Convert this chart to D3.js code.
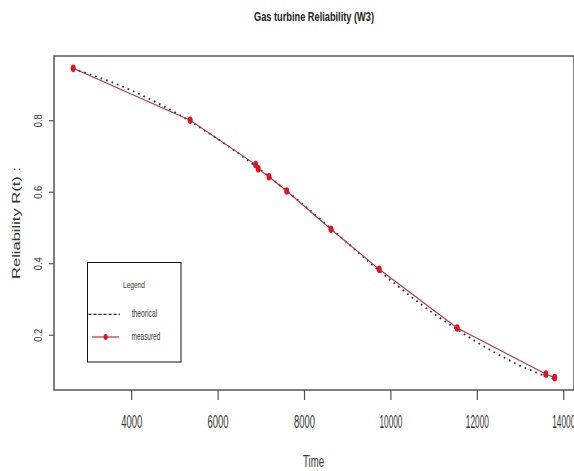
<!DOCTYPE html>
<html>
<head>
<meta charset="utf-8">
<script src="https://cdn.jsdelivr.net/npm/d3@7"></script>
<style>
  html, body { margin: 0; padding: 0; background: #fff; }
  svg { display: block; font-family: "Liberation Sans", Arial, sans-serif; }
</style>
</head>
<body>
<svg id="chart" width="574" height="471"></svg>
<script>
// Measured reliability of the gas turbine
const measTime = [2659, 5364, 6880, 6940, 7190, 7600, 8624, 9741, 11545, 13595, 13803];
const measR    = [0.945, 0.800, 0.676, 0.664, 0.642, 0.602, 0.495, 0.383, 0.219, 0.090, 0.080];

// Theoretical (3-parameter Weibull) reliability curve
const theoTime = [2659, 3000, 3500, 4000, 4500, 5000, 5500, 6000, 6500, 7000, 7500, 8000,
                  8500, 9000, 9500, 10000, 10500, 11000, 11500, 12000, 12500, 13000, 13500, 13803];
const theoR    = [0.944, 0.930, 0.909, 0.884, 0.855, 0.823, 0.787, 0.748, 0.706, 0.660, 0.612, 0.562,
                  0.510, 0.457, 0.404, 0.353, 0.304, 0.259, 0.218, 0.179, 0.144, 0.113, 0.088, 0.076];

const xTicks = [4000, 6000, 8000, 10000, 12000, 14000];
const yTicks = [0.2, 0.4, 0.6, 0.8];

const titleText = "Gas turbine Reliability (W3)";
const xLabel = "Time";
const yLabel = "Reliability R(t) :";
const legendTitle = "Legend";
const seriesNames = ["theorical", "measured"];

const svg = d3.select("#chart");

// Plot region with 4% padding around the data range
const pad = (ext) => { const d = ext[1] - ext[0]; return [ext[0] - 0.04 * d, ext[1] + 0.04 * d]; };
const x = d3.scaleLinear().domain(pad(d3.extent(measTime))).range([54, 574]);
const y = d3.scaleLinear().domain(pad(d3.extent(measR))).range([390, 56]);

const theo = theoTime.map((t, i) => ({ t, r: theoR[i] }));
const meas = measTime.map((t, i) => ({ t, r: measR[i] }));

const line = d3.line().x(d => x(d.t)).y(d => y(d.r));

// Theoretical curve (dotted)
svg.append("path")
  .datum(theo)
  .attr("d", line)
  .attr("fill", "none")
  .attr("stroke", "#1e1e5a")
  .attr("stroke-width", 1.8)
  .attr("stroke-dasharray", "1.6,4.2");

// Measured series (line + points)
svg.append("path")
  .datum(meas)
  .attr("d", line)
  .attr("fill", "none")
  .attr("stroke", "#b4343a")
  .attr("stroke-width", 1.1);

svg.append("g").selectAll("ellipse")
  .data(meas)
  .join("ellipse")
  .attr("cx", d => x(d.t))
  .attr("cy", d => y(d.r))
  .attr("rx", 2.5)
  .attr("ry", 3.8)
  .attr("fill", "#e0141e");

// Frame
const [x0, x1] = x.range();
const [y0, y1] = y.range();
svg.append("rect")
  .attr("x", x0).attr("y", y1)
  .attr("width", x1 - x0).attr("height", y0 - y1)
  .attr("fill", "none")
  .attr("stroke", "#555")
  .attr("stroke-width", 1.5);

// X axis
const xAxis = svg.append("g").attr("transform", `translate(0,${y0})`)
  .call(d3.axisBottom(x).tickValues(xTicks).tickSize(10).tickFormat(d3.format("d")));
xAxis.select(".domain").remove();
xAxis.selectAll(".tick line").attr("stroke", "#555").attr("stroke-width", 1.2);
xAxis.selectAll(".tick text")
  .attr("y", 38)
  .attr("dy", null)
  .attr("fill", "#333")
  .style("font-size", "18px")
  .attr("textLength", d => String(d).length > 4 ? 23 : 21)
  .attr("lengthAdjust", "spacingAndGlyphs");

// Y axis
const yAxis = svg.append("g").attr("transform", `translate(${x0},0)`)
  .call(d3.axisLeft(y).tickValues(yTicks).tickSize(5).tickFormat(d3.format(".1f")));
yAxis.select(".domain").remove();
yAxis.selectAll(".tick line").attr("stroke", "#555").attr("stroke-width", 1.2);
yAxis.selectAll(".tick text")
  .attr("x", null).attr("dy", null)
  .attr("transform", `translate(${41.5 - x0},0) rotate(-90)`)
  .attr("text-anchor", "middle")
  .attr("fill", "#333")
  .style("font-size", "10.5px")
  .attr("textLength", 13)
  .attr("lengthAdjust", "spacingAndGlyphs");

// Title
svg.append("text")
  .attr("x", 314).attr("y", 21)
  .attr("text-anchor", "middle")
  .attr("font-weight", "bold")
  .attr("fill", "#222")
  .style("font-size", "12.5px")
  .attr("textLength", 120)
  .attr("lengthAdjust", "spacingAndGlyphs")
  .text(titleText);

// Axis titles
svg.append("text")
  .attr("x", 313.5).attr("y", 467)
  .attr("text-anchor", "middle")
  .attr("fill", "#333")
  .style("font-size", "17px")
  .attr("textLength", 21)
  .attr("lengthAdjust", "spacingAndGlyphs")
  .text(xLabel);

svg.append("text")
  .attr("transform", "translate(20,223) rotate(-90)")
  .attr("text-anchor", "middle")
  .attr("fill", "#333")
  .style("font-size", "11.5px")
  .attr("textLength", 112)
  .attr("lengthAdjust", "spacingAndGlyphs")
  .text(yLabel);

// Legend
const lg = svg.append("g");
lg.append("rect")
  .attr("x", 87.5).attr("y", 262.5)
  .attr("width", 93.5).attr("height", 99.5)
  .attr("fill", "#fff")
  .attr("stroke", "#111")
  .attr("stroke-width", 1);

lg.append("text")
  .attr("x", 134).attr("y", 288)
  .attr("text-anchor", "middle")
  .attr("fill", "#333")
  .style("font-size", "9.5px")
  .attr("textLength", 22)
  .attr("lengthAdjust", "spacingAndGlyphs")
  .text(legendTitle);

const rows = [
  { name: seriesNames[0], y: 314.3, len: 25.5 },
  { name: seriesNames[1], y: 337,   len: 28.5 }
];

lg.append("line")
  .attr("x1", 88.5).attr("x2", 120).attr("y1", rows[0].y).attr("y2", rows[0].y)
  .attr("stroke", "#1e1e5a").attr("stroke-width", 1.2)
  .attr("stroke-dasharray", "3,2");

lg.append("line")
  .attr("x1", 92).attr("x2", 119).attr("y1", rows[1].y).attr("y2", rows[1].y)
  .attr("stroke", "#b4343a").attr("stroke-width", 1.2);
lg.append("ellipse")
  .attr("cx", 105.7).attr("cy", rows[1].y)
  .attr("rx", 2).attr("ry", 3)
  .attr("fill", "#e0141e");

lg.selectAll("text.item")
  .data(rows)
  .join("text")
  .attr("class", "item")
  .attr("x", 131.7).attr("y", d => d.y + 3)
  .attr("fill", "#333")
  .style("font-size", "10px")
  .attr("textLength", d => d.len)
  .attr("lengthAdjust", "spacingAndGlyphs")
  .text(d => d.name);
</script>
</body>
</html>
